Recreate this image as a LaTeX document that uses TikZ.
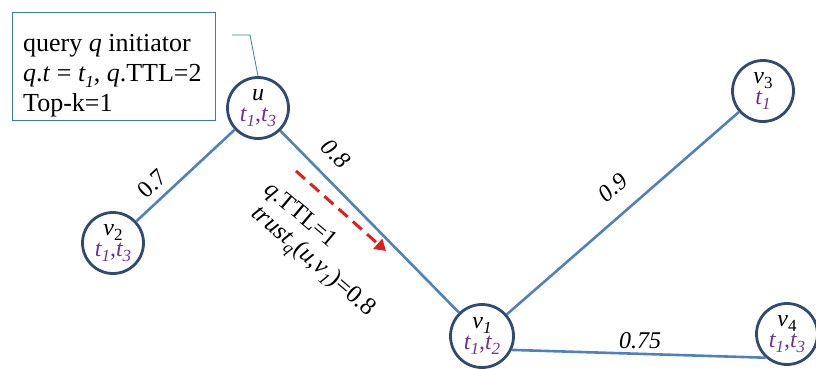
\documentclass[tikz,border=0pt]{standalone}
\usepackage{fontspec}
\setmainfont{Liberation Serif}
\newfontfamily\tnr{Liberation Serif}
\usetikzlibrary{arrows.meta}
\definecolor{edgeblue}{HTML}{4F81BD}
\definecolor{circ}{HTML}{2F4B73}
\definecolor{tpurple}{HTML}{7030A0}
\definecolor{boxc}{HTML}{31849B}
\definecolor{arrred}{HTML}{E0201B}
\newcommand{\sbx}[1]{\raisebox{-0.22em}{\fontsize{17}{17}\selectfont\itshape #1}}
\newcommand{\sbu}[1]{\raisebox{-0.22em}{\fontsize{17}{17}\selectfont #1}}
\newcommand{\tsb}[1]{{\itshape t}\sbx{#1}}
\begin{document}
\begin{tikzpicture}[x=1pt,y=-1pt,
  vnode/.style={circle, draw=circ, fill=white, line width=2.8pt, minimum size=61pt, inner sep=0pt, align=center, font=\tnr\fontsize{24}{21}\selectfont},
  edge/.style={draw=edgeblue, line width=2.6pt},
  wlab/.style={font=\tnr\fontsize{24}{24}\selectfont\itshape, inner sep=0pt},
  note/.style={font=\tnr\fontsize{26}{30}\selectfont, inner sep=0pt, align=left}]
\useasboundingbox (0,0) rectangle (816,369);
% nodes
\node[vnode] (u)  at (258,108) {\textit{u}\\\textcolor{tpurple}{\tsb1,\tsb3}};
\node[vnode] (v2) at (113,243) {\textit{v}\sbu{2}\\\textcolor{tpurple}{\tsb1,\tsb3}};
\node[vnode] (v3) at (763,91)  {\textit{v}\sbu{3}\\\textcolor{tpurple}{\tsb1}};
\node[vnode, minimum size=63pt] (v1) at (482,336) {\textit{v}\sbx{1}\\\textcolor{tpurple}{\tsb1,\tsb2}};
\node[vnode] (v4) at (787,334) {\textit{v}\sbu{4}\\\textcolor{tpurple}{\tsb1,\tsb3}};
% edges
\draw[edge] (u) -- (v2);
\draw[edge] (u) -- (v1);
\draw[edge] (v1) -- (v3);
\draw[edge] (v1.-25) -- (v4.-132);
% weights
\node[wlab, font=\tnr\fontsize{24}{24}\selectfont, rotate=43] (w1) at (152,184) {0.7};
\node[wlab, rotate=-45] (w2) at (336,154) {0.8};
\node[wlab, rotate=41] (w3) at (613,188) {0.9};
\node[wlab] (w4) at (640,341) {0.75};
% query box
\node[draw=boxc, line width=0.8pt, minimum width=203pt, minimum height=108pt, anchor=north west, inner sep=0pt] (box) at (12,12) {};
\node[note, anchor=north west] (bt) at (23,34) {query \textit{q} initiator\\\textit{q}.\textit{t} = \tsb1, \textit{q}.TTL=2\\Top-k=1};
\coordinate (c1) at (232,35);
\coordinate (c2) at (250,35);
\draw[boxc, line width=0.8pt] (c1) -- (c2) -- (u.north);
% forwarding arrow
\coordinate (a1) at (296,171);
\coordinate (a2) at (386,251);
\draw[arrred, line width=3pt, dash pattern=on 12pt off 7pt, -{Triangle[length=11pt,width=13pt]}] (a1) -- (a2);
\node[note, font=\tnr\fontsize{24}{24}\selectfont, rotate=-40] (ttl) at (300,216) {\textit{q}.TTL=1};
\node[note, font=\tnr\fontsize{25}{25}\selectfont, rotate=-41] (tr) at (312,263) {\textit{trust}\sbx{q}(\textit{u},\textit{v}\sbx{1})=0.8};
\end{tikzpicture}
\end{document}
